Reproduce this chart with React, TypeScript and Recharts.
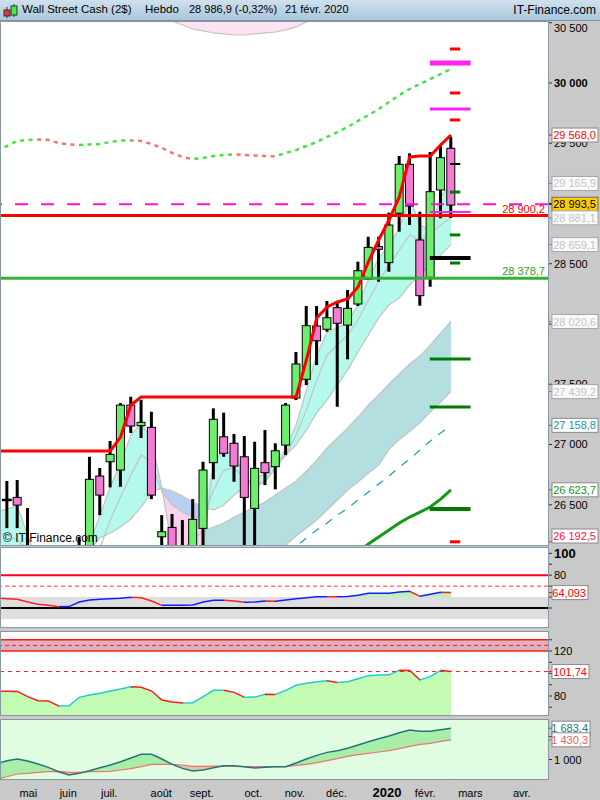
import React from 'react';
import {
  ComposedChart, Bar, Line, Area, XAxis, YAxis,
  ReferenceLine, ReferenceArea, ReferenceDot,
} from 'recharts';

// weekly bars, Wall Street Cash, 19 avr. 2019 -> 21 févr. 2020 (first week: indicators only)
const weeks = [
  '19/04',
  '26/04', '03/05', '10/05', '17/05', '24/05', '31/05', '07/06', '14/06', '21/06', '28/06',
  '05/07', '12/07', '19/07', '26/07', '02/08', '09/08', '16/08', '23/08', '30/08', '06/09',
  '13/09', '20/09', '27/09', '04/10', '11/10', '18/10', '25/10', '01/11', '08/11', '15/11',
  '22/11', '29/11', '06/12', '13/12', '20/12', '27/12', '03/01', '10/01', '17/01', '24/01',
  '31/01', '07/02', '14/02', '21/02',
];
const open = [
  null,
  26540, 26561, 26100, 25950, 25760, 25590, 24820, 25980, 26090, 26738,
  26857, 26788, 27327, 27156, 27142, 26234, 26312, 25880, 25630, 26304,
  26849, 27064, 27010, 26898, 26470, 26849, 26816, 26995, 27386, 27541,
  27983, 27956, 28135, 27991, 28166, 28371, 28642, 28509, 28919, 29325,
  28697, 28387, 29112, 29458,
];
const high = [
  null,
  26697, 26705, 26472, 26100, 25900, 25670, 25990, 26232, 26898, 26805,
  27029, 27344, 27396, 27369, 27272, 26414, 26423, 26373, 26547, 26857,
  27300, 27264, 27087, 27070, 27023, 27120, 27010, 27344, 27767, 28149,
  28149, 28191, 28191, 28282, 28517, 28724, 28724, 28924, 29394, 29416,
  28932, 29427, 29477, 29554,
];
const low = [
  null,
  26306, 26306, 25250, 25550, 25450, 24800, 24680, 25820, 26050, 26414,
  26644, 26649, 27095, 27054, 26547, 25600, 25700, 25400, 25500, 26100,
  26711, 26898, 26691, 26000, 26150, 26663, 26628, 26912, 27369, 27493,
  27659, 27936, 27313, 27707, 28149, 28365, 28351, 28434, 28766, 28821,
  28152, 28309, 28877, 28880,
];
const close = [
  null,
  26531, 26497, 25950, 25760, 25590, 24820, 25980, 26090, 26711, 26580,
  26918, 27327, 27153, 27184, 26580, 26276, 25880, 25630, 26379, 26788,
  27209, 26927, 26821, 26561, 26802, 26766, 26948, 27327, 27668, 27986,
  27861, 28052, 28006, 28130, 28442, 28636, 28620, 28821, 29325, 28979,
  28235, 29098, 29380, 28986.9,
];

// long moving average (dotted, green rising / red falling)
const trendLine = [
  29440,
  29477, 29519, 29527, 29531, 29527, 29502, 29490, 29485, 29490, 29494,
  29510, 29523, 29523, 29519, 29494, 29461, 29419, 29386, 29369, 29378,
  29394, 29402, 29407, 29402, 29398, 29394, 29392, 29419, 29444, 29477,
  29510, 29552, 29593, 29635, 29685, 29734, 29784, 29842, 29900, 29950,
  29992, 30033, 30075, 30116,
];
// trailing stop (thick red)
const stopLine = [
  26946,
  26946, 26946, 26946, 26946, 26946, 26946, 26946, 26946, 26946, 26946,
  26946, 27062, 27328, 27394, 27394, 27394, 27394, 27394, 27394, 27394,
  27394, 27394, 27394, 27394, 27394, 27394, 27394, 27394, 27394, 27701,
  28050, 28141, 28183, 28207, 28307, 28515, 28697, 28863, 29054, 29386,
  29394, 29394, 29485, 29568,
];
// envelope lines (grey)
const lineA = [
  26440,
  26465, 26490, 26249, 26000, 25834, 25710, 25751, 25917, 26166, 26415,
  26647, 26847, 27079, 27179, 27037, 26639, 26141, 26000, 26042, 26125,
  26855, 26954, 26913, 26747, 26647, 26689, 26805, 26971, 27162, 27452,
  27743, 27934, 27967, 28017, 28158, 28365, 28548, 28656, 28797, 29046,
  28822, 28780, 29054, 29165.9,
];
const lineB = [
  26270,
  26249, 26207, 26124, 26000, 25876, 25776, 25726, 25793, 25959, 26141,
  26373, 26564, 26747, 26913, 26855, 26606, 26498, 26440, 26398, 26390,
  26622, 26788, 26805, 26722, 26664, 26705, 26805, 26913, 27079, 27287,
  27535, 27743, 27826, 27909, 28033, 28199, 28349, 28490, 28614, 28739,
  28697, 28755, 28822, 28881.1,
];
const lineC = [
  26060,
  26042, 26000, 25917, 25793, 25710, 25627, 25585, 25710, 26124, 26224,
  26265, 26315, 26382, 26481, 26606, 26639, 26614, 26573, 26523, 26481,
  26457, 26498, 26581, 26647, 26705, 26763, 26847, 26913, 26996, 27121,
  27262, 27370, 27494, 27619, 27768, 27909, 28050, 28158, 28216, 28324,
  28407, 28490, 28573, 28659.1,
];
const lineD = [
  null,
  null, null, null, null, null, null, null, null, null, null,
  null, null, null, null, 25959, 26000, 26074, 26140, 26207, 26282,
  26315, 26348, 26398, 26440, 26481, 26523, 26581, 26639, 26697, 26780,
  26871, 26971, 27054, 27137, 27228, 27328, 27411, 27502, 27585, 27668,
  27734, 27826, 27925, 28020.6,
];
const lineE = [
  null,
  null, null, null, null, null, null, null, null, null, null,
  null, null, null, null, 25378, 25461, 25544, 25610, 25668, 25726,
  25776, 25826, 25875, 25925, 25983, 26042, 26100, 26166, 26240, 26307,
  26373, 26456, 26539, 26622, 26689, 26764, 26830, 26960, 27040, 27110,
  27179, 27270, 27353, 27439.2,
];
const upperEnv = [
  null,
  null, null, null, null, null, null, null, null, null, null,
  null, null, null, null, null, 30560, 30515, 30481, 30448, 30432,
  30415, 30407, 30398, 30398, 30407, 30415, 30423, 30440, 30465, 30506,
  30540, null, null, null, null, null, null, null, null, null,
  null, null, null, null,
];
const ma26 = [
  null,
  null, null, null, null, null, null, null, null, null, null,
  null, null, null, null, null, null, null, null, null, null,
  null, null, null, null, null, null, null, 26120, 26157, 26224,
  26290, 26348, 26414, 26472, 26539, 26605, 26672, 26738, 26813, 26879,
  26954, 27029, 27095, 27158.8,
];
const ma52 = [
  null,
  null, null, null, null, null, null, null, null, null, null,
  null, null, null, null, null, null, null, null, null, null,
  null, null, null, null, null, null, null, null, null, null,
  null, null, null, null, 26110, 26174, 26232, 26290, 26348, 26398,
  26439, 26481, 26547, 26623.7,
];

// oscillators
const osc1 = [
  59.0,
  58.5, 57.9, 55.5, 53.4, 52.5, 51.2, 51.3, 55.5, 57.3, 57.9,
  58.5, 58.9, 59.8, 59.4, 56.4, 52.4, 52.5, 52.6, 52.7, 55.5,
  57.0, 57.1, 56.4, 55.2, 55.5, 56.4, 56.2, 57.3, 58.5, 59.4,
  60.3, 60.4, 60.3, 60.6, 61.6, 63.4, 63.4, 63.5, 64.6, 65.3,
  60.7, 62.5, 64.3, 64.093,
];
const osc2 = [
  84.3,
  84.2, 84.1, 79.4, 75.8, 75.6, 71.1, 71.3, 78.8, 80.9, 82.4,
  84.4, 86.2, 88.3, 87.7, 84.4, 76.4, 74.7, 73.8, 74.0, 79.4,
  85.0, 85.1, 83.2, 78.8, 79.0, 81.5, 81.4, 85.0, 89.5, 91.3,
  92.7, 93.6, 92.1, 92.7, 95.4, 98.1, 98.7, 98.8, 102.8, 102.7,
  94.2, 97.2, 102.8, 101.74,
];
const flowFast = [
  910,
  975, 1011, 968, 902, 829, 734, 662, 698, 756, 822,
  880, 953, 1033, 1113, 1113, 1011, 895, 807, 749, 771,
  822, 865, 865, 844, 815, 829, 844, 844, 924, 1011,
  1091, 1156, 1193, 1244, 1316, 1389, 1455, 1513, 1585, 1644,
  1615, 1615, 1651, 1683.4,
];
const flowSlow = [
  570,
  625, 684, 698, 720, 734, 742, 720, 720, 734, 734,
  742, 771, 800, 844, 895, 895, 895, 880, 851, 851,
  858, 858, 851, 844, 844, 844, 844, 844, 873, 895,
  931, 975, 1018, 1069, 1106, 1135, 1164, 1193, 1236, 1287,
  1331, 1353, 1396, 1430.3,
];

// axis ticks and levels
const monthPos = [1.2, 5.1, 9.1, 13.9, 17.7, 23.0, 26.9, 30.9, 35.4, 39.5, 43.7, 49.0];
const monthLabels = ['mai', 'juin', 'juil.', 'août', 'sept.', 'oct.', 'nov.', 'déc.', '2020', 'févr.', 'mars', 'avr.'];
const priceTicks = [26500, 27000, 27500, 28000, 28500, 29000, 29500, 30000, 30500];
const hiddenPriceLabels = [28000, 29000];
const lastPrice = 28993.5;
const resistance = 28900.2;
const support = 28378.7;
const projValues = [30282, 30166, 29917, 29784, 29693, 29328, 29095, 28929, 28739, 28548, 28506, 27710, 27311, 26465, 26192.5];
const projKinds = ['red', 'magentaMajor', 'red', 'magenta', 'red', 'black', 'green', 'magentaMinor', 'green', 'blackMajor', 'green', 'greenWide', 'greenWide', 'greenMajor', 'red'];
const tagValues = [29568.0, 29165.9, 28993.5, 28881.1, 28659.1, 28020.6, 27439.2, 27158.8, 26623.7, 26192.5];
const tagKinds = ['red', 'grey', 'last', 'grey', 'grey', 'grey', 'grey', 'teal', 'green', 'crimson'];

const X_DOMAIN: [number, number] = [-0.68, 52.4];
const NARROW: [number, number] = [42.9, 43.9];
const WIDE: [number, number] = [40.95, 44.9];
const FONT = '"Liberation Sans", Arial, sans-serif';
const GREY = '#c3c3c3';
const AXIS_BG = '#c9c9c9';

const PROJ_STYLE: Record<string, { color: string; w: number; wide: boolean }> = {
  red: { color: '#ff0000', w: 3, wide: false },
  magentaMajor: { color: '#ff22ee', w: 5, wide: true },
  magenta: { color: '#ff22ee', w: 3, wide: true },
  magentaMinor: { color: '#ff22ee', w: 2, wide: true },
  black: { color: '#000000', w: 2, wide: false },
  blackMajor: { color: '#000000', w: 4, wide: true },
  green: { color: '#007a00', w: 3, wide: false },
  greenWide: { color: '#007a00', w: 3, wide: true },
  greenMajor: { color: '#007a00', w: 4, wide: true },
};
const TAG_STYLE: Record<string, { color: string; bg: string; border: string; tick: string }> = {
  red: { color: '#ff0000', bg: '#ffffff', border: '#8a8a8a', tick: '#ff0000' },
  grey: { color: '#c4c4c4', bg: '#fafafa', border: '#a8a8a8', tick: '#8a8a8a' },
  last: { color: '#000000', bg: '#ffcc00', border: '#6a6a6a', tick: '#000000' },
  teal: { color: '#1596a6', bg: '#ffffff', border: '#8a8a8a', tick: '#1596a6' },
  green: { color: '#119911', bg: '#ffffff', border: '#8a8a8a', tick: '#119911' },
  crimson: { color: '#ff1144', bg: '#ffffff', border: '#8a8a8a', tick: '#ff1144' },
  flowFast: { color: '#1f7878', bg: '#ffffff', border: '#8a8a8a', tick: '#1f7878' },
  flowSlow: { color: '#e86060', bg: '#ffffff', border: '#8a8a8a', tick: '#e86060' },
};

const fmt = (v: number, dec: number) => {
  const [int, frac] = v.toFixed(dec).split('.');
  const s = int.replace(/\B(?=(\d{3})+(?!\d))/g, ' ');
  return frac ? `${s},${frac}` : s;
};

const rows = weeks.map((w, k) => {
  const i = k - 1;
  const a = lineA[k];
  const b = lineB[k];
  const c = lineC[k];
  return {
    i, w,
    candle: high[k] == null ? null : [low[k], high[k]],
    o: open[k], h: high[k], l: low[k], c: close[k],
    trend: trendLine[k], stop: stopLine[k],
    a, b, cc: c, d: lineD[k], e: lineE[k],
    aqua: i <= 15 || i >= 20 ? [c, a] : i === 19 ? [c, c] : null,
    blue: i >= 15 && i <= 19 ? [b, c] : null,
    pink: i >= 16 && i <= 19 ? [a, b] : i === 15 ? [b, b] : null,
    teal: lineD[k] == null ? null : [lineE[k], lineD[k]],
    env: upperEnv[k],
    envBand: upperEnv[k] == null ? null : [upperEnv[k], 30800],
    ma26: ma26[k], ma52: ma52[k],
    osc1: osc1[k], osc1Hi: [60, Math.max(60, osc1[k])],
    osc2: osc2[k],
    fast: flowFast[k], slow: flowSlow[k], floor: Math.min(flowFast[k], flowSlow[k]),
  };
});

function DirGradient({ id, values, up, down }: { id: string; values: (number | null)[]; up: string; down: string }) {
  const idx: number[] = [];
  values.forEach((v, i) => { if (v != null) idx.push(i); });
  const first = idx[0];
  const last = idx[idx.length - 1];
  const span = last - first;
  const stops: React.ReactNode[] = [];
  for (let k = first; k < last; k++) {
    const col = (values[k + 1] as number) >= (values[k] as number) ? up : down;
    stops.push(<stop key={`${k}a`} offset={(k - first) / span} stopColor={col} />);
    stops.push(<stop key={`${k}b`} offset={(k + 1 - first) / span} stopColor={col} />);
  }
  return <linearGradient id={id} x1="0" y1="0" x2="1" y2="0">{stops}</linearGradient>;
}

const Candle = (props: any) => {
  const { x, y, width, height, payload, value } = props;
  if (payload == null || payload.h == null) return null;
  const [lo, hi] = Array.isArray(value) ? value : [payload.l, payload.h];
  const hgt = Math.abs(height);
  if (!(hgt > 0.5) || hi === lo) return null;
  const top0 = height < 0 ? y + height : y;
  const k = hgt / (hi - lo);
  const py = (v: number) => top0 + (hi - v) * k;
  const cx = x + width / 2;
  const top = py(Math.max(payload.o, payload.c));
  const bot = py(Math.min(payload.o, payload.c));
  const up = payload.c >= payload.o;
  const doji = bot - top < 2;
  return (
    <g>
      <rect x={cx - 1.5} y={top0} width={3} height={hgt} fill="#000" />
      {doji
        ? <rect x={x - 1} y={top - 1.2} width={width + 2} height={2.5} fill="#000" />
        : <rect x={x} y={top} width={width} height={bot - top} fill={up ? '#6cef6c' : '#f27bd3'} stroke="#000" strokeWidth={1} />}
    </g>
  );
};

const PriceTick = (p: any) => {
  const v = p.payload.value;
  if (hiddenPriceLabels.includes(v)) return <g />;
  return (
    <text x={p.x} y={Math.max(p.y + 4, 9.5)} fontSize={11} fontWeight={v === 30000 ? 700 : 400} fill="#000">
      {fmt(v, 0)}
    </text>
  );
};

const makeTick = (labels: Record<number, string>, bold: number | null) => (p: any) => {
  const v = p.payload.value;
  const txt = labels[v];
  if (!txt) return <g />;
  return (
    <text x={p.x} y={p.y} dy={v === bold ? 5 : 4} fontSize={v === bold ? 13 : 11} fontWeight={v === bold ? 700 : 400} fill="#000">
      {txt}
    </text>
  );
};

const MonthTick = (p: any) => {
  const k = monthPos.indexOf(p.payload.value);
  const label = monthLabels[k] ?? '';
  const strong = label === '2020';
  return (
    <text x={p.x} y={p.y + 18} fontSize={strong ? 13 : 11} fontWeight={strong ? 700 : 400} fill="#000">
      {label}
    </text>
  );
};

// value tag in the right margin; maxCy keeps the box inside the panel
const tagShape = (kind: string, text: string, w: number, maxCy = 1e9) => (p: any) => {
  const st = TAG_STYLE[kind];
  const x0 = p.cx + 4;
  const cy = Math.min(p.cy, maxCy);
  return (
    <g>
      <line x1={p.cx} x2={x0} y1={p.cy} y2={p.cy} stroke={st.tick} />
      <rect x={x0} y={cy - 7} width={w} height={14} fill={st.bg} stroke={st.border} />
      <text x={x0 + w - 2} y={cy + 4} textAnchor="end" fontSize={11} fill={st.color}>{text}</text>
    </g>
  );
};

const levelLabel = (text: string, color: string) => (p: any) => {
  const vb = p.viewBox || {};
  return (
    <text x={vb.x + vb.width - 3} y={vb.y - 3} textAnchor="end" fontSize={11} fill={color}>{text}</text>
  );
};

const Frame = ({ top, height, left = 0, width = 549 }: { top: number; height: number; left?: number; width?: number }) => (
  <div style={{
    position: 'absolute', left, top, width, height, boxSizing: 'border-box',
    border: '1px solid #8796a3', pointerEvents: 'none',
  }} />
);

const common = { isAnimationActive: false };

function MainPanel() {
  return (
    <ComposedChart width={600} height={523} data={rows} margin={{ top: 0, right: 0, bottom: 0, left: 0 }}>
      <defs>
        <DirGradient id="gTrend" values={trendLine} up="#3ee63e" down="#f87070" />
      </defs>
      <XAxis type="number" dataKey="i" domain={X_DOMAIN} hide allowDataOverflow />
      <YAxis
        orientation="right" width={52} domain={[26166, 30506]} allowDataOverflow
        ticks={priceTicks} interval={0} tick={<PriceTick />} tickSize={4} tickMargin={2}
        axisLine={false} tickLine={{ stroke: '#333' }}
      />
      <Area dataKey="envBand" fill="#fde3f1" fillOpacity={1} stroke="none" {...common} />
      <Area dataKey="teal" fill="#b3dfe0" fillOpacity={1} stroke="none" {...common} />
      <Area dataKey="aqua" fill="#b5f8ec" fillOpacity={1} stroke="none" {...common} />
      <Area dataKey="blue" fill="#b9cff1" fillOpacity={1} stroke="none" {...common} />
      <Area dataKey="pink" fill="#fcd3ef" fillOpacity={1} stroke="none" {...common} />
      <Line dataKey="env" stroke={GREY} strokeWidth={1.2} dot={false} activeDot={false} zIndex={250} {...common} />
      <Line dataKey="a" stroke={GREY} strokeWidth={1.2} dot={false} activeDot={false} zIndex={250} {...common} />
      <Line dataKey="b" stroke={GREY} strokeWidth={1.2} dot={false} activeDot={false} zIndex={250} {...common} />
      <Line dataKey="cc" stroke={GREY} strokeWidth={1.2} dot={false} activeDot={false} zIndex={250} {...common} />
      <Line dataKey="d" stroke={GREY} strokeWidth={1.2} dot={false} activeDot={false} zIndex={250} {...common} />
      <Line dataKey="e" stroke={GREY} strokeWidth={1.2} dot={false} activeDot={false} zIndex={250} {...common} />
      <Line dataKey="ma26" stroke="#22a3b3" strokeWidth={1.3} strokeDasharray="8 8" dot={false} activeDot={false} {...common} />
      <Line dataKey="ma52" stroke="#139a13" strokeWidth={3} dot={false} activeDot={false} {...common} />
      <Bar dataKey="candle" barSize={8} shape={<Candle />} {...common} />
      <Line dataKey="trend" stroke="url(#gTrend)" strokeWidth={2.5} strokeDasharray="4 4.5" dot={false} activeDot={false} {...common} />
      <Line dataKey="stop" stroke="#ff0000" strokeWidth={3} dot={false} activeDot={false} {...common} />
      <ReferenceLine y={lastPrice} stroke="#ff11dd" strokeWidth={2} strokeDasharray="13 13" zIndex={450} />
      <ReferenceLine y={resistance} stroke="#ff0000" strokeWidth={3} zIndex={450} label={levelLabel(fmt(resistance, 1), '#ff0000')} />
      <ReferenceLine y={support} stroke="#35b035" strokeWidth={3} zIndex={450} label={levelLabel(fmt(support, 1), '#2aa02a')} />
      {projValues.map((v, k) => {
        const st = PROJ_STYLE[projKinds[k]];
        const [x1, x2] = st.wide ? WIDE : NARROW;
        return (
          <ReferenceLine key={`p${k}`} segment={[{ x: x1, y: v }, { x: x2, y: v }]} stroke={st.color} strokeWidth={st.w} zIndex={460} />
        );
      })}
      {tagValues.map((v, k) => (
        <ReferenceDot key={`t${k}`} x={X_DOMAIN[1]} y={v} r={0} zIndex={2100} shape={tagShape(tagKinds[k], fmt(v, 1), 46, 514)} />
      ))}
    </ComposedChart>
  );
}

function Osc1Panel() {
  const last = osc1[osc1.length - 1];
  return (
    <ComposedChart width={600} height={81} data={rows} margin={{ top: 0, right: 0, bottom: 0, left: 0 }}>
      <defs>
        <DirGradient id="gOsc1" values={osc1} up="#1a1aff" down="#ff2020" />
      </defs>
      <XAxis type="number" dataKey="i" domain={X_DOMAIN} hide allowDataOverflow />
      <YAxis
        orientation="right" width={52} domain={[31.7, 105.8]} allowDataOverflow
        ticks={[100, 90, 80, 70, 60, 50]} interval={0} tick={makeTick({ 100: '100', 80: '80' }, 100)}
        tickSize={4} tickMargin={2} axisLine={false} tickLine={{ stroke: '#333' }}
      />
      <ReferenceArea y1={40} y2={60} fill="#dedede" fillOpacity={1} stroke="none" />
      <ReferenceLine y={50} stroke="#000" strokeWidth={2} />
      <ReferenceLine y={80} stroke="#ff0022" strokeWidth={2} />
      <ReferenceLine y={70} stroke="#ff3030" strokeWidth={1} strokeDasharray="4 3" />
      <Area dataKey="osc1Hi" fill="#b7f3b7" fillOpacity={1} stroke="none" {...common} />
      <Line dataKey="osc1" stroke="url(#gOsc1)" strokeWidth={1.5} dot={false} activeDot={false} {...common} />
      <ReferenceDot x={X_DOMAIN[1]} y={last} r={0} zIndex={2100} shape={tagShape('red', fmt(last, 3), 36)} />
    </ComposedChart>
  );
}

function Osc2Panel() {
  const last = osc2[osc2.length - 1];
  return (
    <ComposedChart width={600} height={85} data={rows} margin={{ top: 0, right: 0, bottom: 0, left: 0 }}>
      <defs>
        <DirGradient id="gOsc2" values={osc2} up="#22cccc" down="#ff1a1a" />
      </defs>
      <XAxis type="number" dataKey="i" domain={X_DOMAIN} hide allowDataOverflow />
      <YAxis
        orientation="right" width={52} domain={[62.2, 137.8]} allowDataOverflow
        ticks={[130, 120, 110, 100, 90, 80, 70]} interval={0} tick={makeTick({ 120: '120', 80: '80' }, null)}
        tickSize={4} tickMargin={2} axisLine={false} tickLine={{ stroke: '#333' }}
      />
      <ReferenceArea y1={120} y2={130} fill="#dcb3ba" fillOpacity={1} stroke="none" />
      <ReferenceLine y={130} stroke="#ff1a1a" strokeWidth={1.5} />
      <ReferenceLine y={120} stroke="#ff1a1a" strokeWidth={1.5} />
      <ReferenceLine y={125} stroke="#ff1a1a" strokeWidth={1} strokeDasharray="4 3" />
      <Area dataKey="osc2" fill="#c3fbb3" fillOpacity={1} stroke="none" baseValue="dataMin" {...common} />
      <ReferenceLine y={last} stroke="#ff1a1a" strokeWidth={1} strokeDasharray="4 4" zIndex={450} />
      <Line dataKey="osc2" stroke="url(#gOsc2)" strokeWidth={1.5} dot={false} activeDot={false} {...common} />
      <ReferenceDot x={X_DOMAIN[1]} y={last} r={0} zIndex={2100} shape={tagShape('red', fmt(last, 2), 37)} />
    </ComposedChart>
  );
}

function FlowPanel() {
  const lastFast = flowFast[flowFast.length - 1];
  const lastSlow = flowSlow[flowSlow.length - 1];
  return (
    <ComposedChart width={600} height={81} data={rows} margin={{ top: 0, right: 0, bottom: 0, left: 0 }}>
      <XAxis
        type="number" dataKey="i" domain={X_DOMAIN} allowDataOverflow height={21}
        ticks={monthPos} interval={0} tick={<MonthTick />} tickLine={false} axisLine={false} tickSize={0} tickMargin={0}
      />
      <YAxis
        orientation="right" width={52} domain={[575, 1884]} allowDataOverflow
        ticks={[1500, 1000]} interval={0} tick={makeTick({ 1000: '1 000' }, null)}
        tickSize={4} tickMargin={2} axisLine={false} tickLine={{ stroke: '#333' }}
      />
      <Area dataKey="slow" fill="#dac6a8" fillOpacity={1} stroke="none" baseValue="dataMin" {...common} />
      <Area dataKey="fast" fill="#a8eea8" fillOpacity={1} stroke="none" baseValue="dataMin" {...common} />
      <Area dataKey="floor" fill="#e1fde1" fillOpacity={1} stroke="none" baseValue="dataMin" {...common} />
      <Line dataKey="slow" stroke="#f07272" strokeWidth={1.2} dot={false} activeDot={false} {...common} />
      <Line dataKey="fast" stroke="#1f7878" strokeWidth={1.5} dot={false} activeDot={false} {...common} />
      <ReferenceDot x={X_DOMAIN[1]} y={lastFast} r={0} zIndex={2100} shape={tagShape('flowFast', fmt(lastFast, 1), 38)} />
      <ReferenceDot x={X_DOMAIN[1]} y={lastSlow} r={0} zIndex={2100} shape={tagShape('flowSlow', fmt(lastSlow, 1), 38)} />
    </ComposedChart>
  );
}

const TitleIcon = () => (
  <svg width={16} height={16} style={{ position: 'absolute', left: 2, top: 3 }}>
    <line x1={5} y1={4} x2={5} y2={15} stroke="#333" />
    <rect x={2} y={7} width={6} height={6} fill="#ee3333" stroke="#333" />
    <line x1={12} y1={1} x2={12} y2={14} stroke="#333" />
    <rect x={9} y={3} width={6} height={9} fill="#44ee44" stroke="#333" />
  </svg>
);

export default function App() {
  const panelBg = (c: string) => `linear-gradient(to right, ${c} 0px, ${c} 548px, ${AXIS_BG} 548px)`;
  return (
    <div style={{ position: 'absolute', left: 0, top: 0, width: 600, height: 800, overflow: 'hidden', background: AXIS_BG, fontFamily: FONT }}>
      <div style={{
        position: 'absolute', left: 0, top: 0, width: 600, height: 21, boxSizing: 'border-box',
        background: 'linear-gradient(#cfe1ec, #a9c7da)', borderBottom: '1px solid #7d95a5', fontSize: 11.5, color: '#000',
      }}>
        <TitleIcon />
        <span style={{ position: 'absolute', left: 22, top: 3 }}>Wall Street Cash (2$)</span>
        <span style={{ position: 'absolute', left: 145, top: 3 }}>Hebdo</span>
        <span style={{ position: 'absolute', left: 189, top: 3, fontSize: 11 }}>28 986,9 (-0,32%)</span>
        <span style={{ position: 'absolute', left: 285, top: 3, fontSize: 11 }}>21 févr. 2020</span>
        <span style={{ position: 'absolute', right: 4, top: 3, fontSize: 12 }}>IT-Finance.com</span>
      </div>

      <div style={{ position: 'absolute', left: 0, top: 22, width: 600, height: 523, background: panelBg('#ffffff') }}>
        <MainPanel />
      </div>
      <div style={{ position: 'absolute', left: 3, top: 531, fontSize: 12, color: '#000', pointerEvents: 'none' }}>© IT-Finance.com</div>
      <Frame top={21} height={525} />

      <div style={{ position: 'absolute', left: 0, top: 547, width: 600, height: 81, background: panelBg('#ffffff') }}>
        <Osc1Panel />
      </div>
      <Frame top={547} height={81} />

      <div style={{ position: 'absolute', left: 0, top: 631, width: 600, height: 85, background: panelBg('#ffffff') }}>
        <Osc2Panel />
      </div>
      <Frame top={631} height={85} />

      <div style={{ position: 'absolute', left: 0, top: 719, width: 600, height: 60, background: panelBg('#e1fde1') }} />
      <div style={{ position: 'absolute', left: 0, top: 719, width: 600, height: 81 }}>
        <FlowPanel />
      </div>
      <Frame top={719} height={61} />
    </div>
  );
}
